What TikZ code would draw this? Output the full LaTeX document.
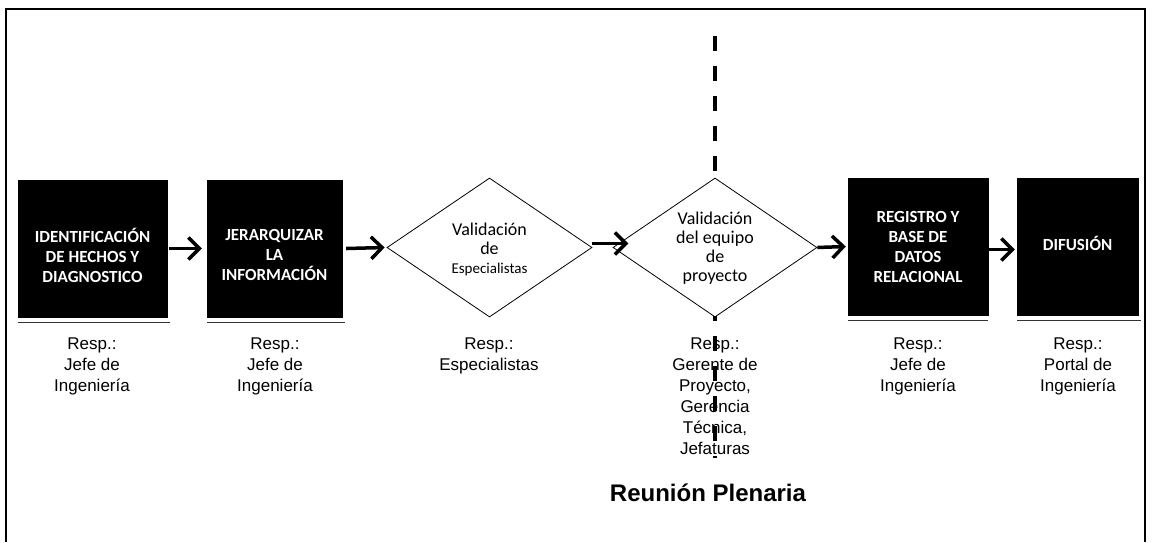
\documentclass[tikz,border=0pt]{standalone}
\usepackage{fontspec}
\setmainfont{Liberation Sans}
\newfontfamily\calib{Carlito}
\usetikzlibrary{arrows.meta,shapes.geometric}

\tikzset{
  blackbox/.style={draw=black, fill=black, inner sep=0pt},
  boxtext/.style={text=white, align=center, inner sep=0pt,
    font=\calib\bfseries\fontsize{17}{20}\selectfont},
  decision/.style={diamond, draw=black, line width=0.8pt, fill=white,
    inner sep=0pt, aspect=1.47},
  dectext/.style={align=center, inner sep=0pt,
    font=\calib\fontsize{18}{19}\selectfont},
  resp/.style={align=center, inner sep=0pt,
    font=\fontsize{17}{21}\selectfont},
  flow/.style={line width=3.5pt, -{Straight Barb[length=11pt,width=22pt]}},
  underline/.style={line width=1pt, black!80},
  frame/.style={line width=2.2pt},
  plenary/.style={line width=4pt, dash pattern=on 15pt off 15pt}
}

\begin{document}
\begin{tikzpicture}[x=1pt,y=-1pt]
\useasboundingbox (0,0) rectangle (1152,542);

% outer frame (open at the bottom)
\coordinate (fbl) at (6,542);
\coordinate (ftl) at (6,9);
\coordinate (ftr) at (1145,9);
\coordinate (fbr) at (1145,542);
\draw[frame] (fbl) -- (ftl) -- (ftr) -- (fbr);

% responsible-party texts
\node[resp] (r1) at (92,366) {Resp.:\\Jefe de\\Ingeniería};
\node[resp] (r2) at (275,366) {Resp.:\\Jefe de\\Ingeniería};
\node[resp] (r3) at (489,356) {Resp.:\\Especialistas};
\node[resp] (r4) at (715,396) {Resp.:\\Gerente de\\Proyecto,\\Gerencia\\Técnica,\\Jefaturas};
\node[resp] (r5) at (918,366) {Resp.:\\Jefe de\\Ingeniería};
\node[resp] (r6) at (1078,366) {Resp.:\\Portal de\\Ingeniería};

% plenary meeting line
\coordinate (dtop) at (715,36);
\coordinate (dbot) at (715,458);
\draw[plenary] (dtop) -- (dbot);
\node[font=\bfseries\fontsize{24}{26}\selectfont, inner sep=0pt] (plen) at (708,493) {Reunión Plenaria};

% process boxes
\node[blackbox, minimum width=149pt, minimum height=137pt] (b1) at (92.5,248.5) {};
\node[boxtext] (t1) at (92.5,255) {IDENTIFICACIÓN\\DE HECHOS Y\\DIAGNOSTICO};
\node[blackbox, minimum width=135pt, minimum height=137pt] (b2) at (274.5,248.5) {};
\node[boxtext] (t2) at (274.5,255) {JERARQUIZAR\\LA\\INFORMACIÓN};
\node[blackbox, minimum width=140pt, minimum height=137pt] (b3) at (918,246.5) {};
\node[boxtext] (t3) at (918,247) {REGISTRO Y\\BASE DE\\DATOS\\RELACIONAL};
\node[blackbox, minimum width=121pt, minimum height=137pt] (b4) at (1077.5,246.5) {};
\node[boxtext] (t4) at (1077.5,243) {DIFUSIÓN};

% decisions
\node[decision, minimum width=205pt, minimum height=139pt] (d1) at (489.5,247.5) {};
\node[dectext] (dt1) at (489.5,249) {Validación\\de\\{\fontsize{15}{19}\selectfont Especialistas}};
\node[decision, minimum width=204pt, minimum height=139pt] (d2) at (715,247.5) {};
\node[dectext] (dt2) at (715,248.5) {Validación\\del equipo\\de\\proyecto};

% thin lines under the boxes
\draw[underline] ([yshift=-5pt]b1.south west) -- ([yshift=-5pt,xshift=3pt]b1.south east);
\draw[underline] ([yshift=-5pt]b2.south west) -- ([yshift=-5pt,xshift=3pt]b2.south east);
\draw[underline] ([yshift=-5pt]b3.south west) -- ([yshift=-5pt]b3.south east);
\draw[underline] ([yshift=-5pt]b4.south west) -- ([yshift=-5pt,xshift=3pt]b4.south east);

% flow arrows
\draw[flow] ([xshift=2pt]b1.east) -- ([xshift=-5pt]b2.west);
\draw[flow] ([xshift=4pt]b2.east) -- ([xshift=-2pt]d1.west);
\draw[flow] ([yshift=4pt]d1.east) -- ([yshift=4pt,xshift=36pt]d1.east);
\draw[flow] (d2.east) -- ([xshift=-2pt]b3.west);
\draw[flow] ([yshift=-3pt]b3.east) -- ([yshift=-3pt,xshift=-2pt]b4.west);
\end{tikzpicture}
\end{document}
